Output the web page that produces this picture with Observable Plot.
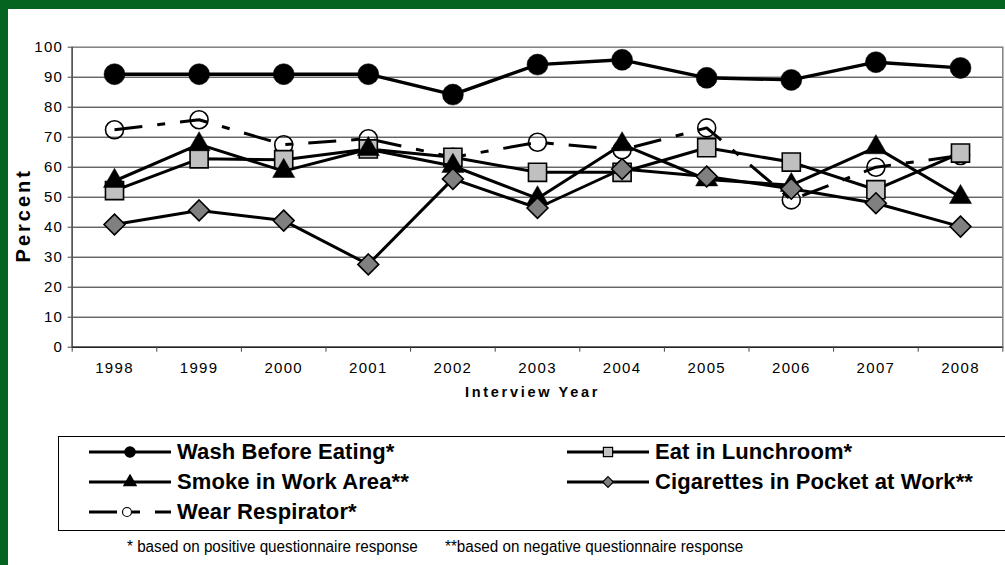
<!DOCTYPE html>
<html>
<head>
<meta charset="utf-8">
<script src="https://cdn.jsdelivr.net/npm/d3@7"></script>
<script src="https://cdn.jsdelivr.net/npm/@observablehq/plot@0.6"></script>
<style>
  body { margin: 0; background: #fff; }
  #page {
    position: relative; width: 1005px; height: 565px; box-sizing: border-box;
    border-top: 9px solid #05641f; border-left: 8px solid #05641f;
    background: #fff; overflow: hidden;
    font-family: "Liberation Sans", Arial, sans-serif;
  }
  #chart svg text { font-family: "Liberation Sans", Arial, sans-serif; }
  #chart g[aria-label="x-axis tick label"] text,
  #chart g[aria-label="y-axis tick label"] text { letter-spacing: 1.3px; }
  #legend {
    position: absolute; left: 50px; top: 427px; width: 990px; height: 95px;
    border: 1px solid #000; box-sizing: border-box;
  }
  .entry { position: absolute; height: 30px; display: flex; align-items: center; }
  .entry span { font-weight: bold; font-size: 22px; color: #000; margin-left: 6px; white-space: nowrap; letter-spacing: 0.1px; }
  .note { position: absolute; top: 529px; font-size: 16px; white-space: nowrap;
    font-family: "Liberation Sans", Arial, sans-serif;
    transform: scaleX(0.95); transform-origin: 0 50%; }
</style>
</head>
<body>
<div id="page">
  <div id="chart"></div>
  <div id="legend"></div>
</div>
<script>
// Survey years and percentages for each hygiene practice
const years = [1998, 1999, 2000, 2001, 2002, 2003, 2004, 2005, 2006, 2007, 2008];
const washBeforeEating   = [91, 91, 91, 91, 84.2, 94.2, 95.8, 89.8, 89.1, 95, 93.1];
const eatInLunchroom     = [52.2, 62.8, 62.5, 66.1, 63.3, 58.3, 58.3, 66.5, 61.7, 52.5, 64.7];
const smokeInWorkArea    = [55.4, 67.6, 58.7, 66, 60.4, 49.6, 67.6, 55.9, 54, 66.6, 50];
const cigarettesInPocket = [40.9, 45.6, 42.2, 27.6, 56.1, 46.4, 59.4, 56.9, 52.8, 48, 40.2];
const wearRespirator     = [72.5, 75.8, 67.5, 69.5, 63.3, 68.3, 65.8, 73.1, 49.1, 60, 63.9];
const seriesNames = [
  "Wash Before Eating*", "Eat in Lunchroom*", "Smoke in Work Area**",
  "Cigarettes in Pocket at Work**", "Wear Respirator*"
];
const yTicks = [0, 10, 20, 30, 40, 50, 60, 70, 80, 90, 100];
const xTitle = "Interview Year";
const yTitle = "Percent";
const footnotes = [
  "* based on positive questionnaire response",
  "**based on negative questionnaire response"
];

// Visual style per series (marker symbol, fills, dash)
const styles = {
  "Wash Before Eating*":            {symbol: "circle",   fill: "#000",    r: 10.5, lr: 5.2},
  "Eat in Lunchroom*":              {symbol: "square",   fill: "#c0c0c0", r: 10.2, lr: 5.2},
  "Smoke in Work Area**":           {symbol: "triangle", fill: "#000",    r: 8.2,  lr: 4.6},
  "Cigarettes in Pocket at Work**": {symbol: "diamond2", fill: "#808080", r: 9.4,  lr: 4.8},
  "Wear Respirator*":               {symbol: "circle",   fill: "none",    r: 9,    lr: 4.5, dash: "28,15,8,15"}
};
const valuesByName = {
  "Wash Before Eating*": washBeforeEating,
  "Eat in Lunchroom*": eatInLunchroom,
  "Smoke in Work Area**": smokeInWorkArea,
  "Cigarettes in Pocket at Work**": cigarettesInPocket,
  "Wear Respirator*": wearRespirator
};
// drawing order: respirator beneath, cigarettes on top
const drawOrder = ["Wear Respirator*", "Wash Before Eating*", "Eat in Lunchroom*", "Smoke in Work Area**", "Cigarettes in Pocket at Work**"];

const bounds = [years[0] - 0.5, ...years.map(y => y + 0.5)];

const seriesMarks = drawOrder.flatMap(name => {
  const s = styles[name];
  const rows = years.map((year, i) => ({year, value: valuesByName[name][i]}));
  return [
    Plot.line(rows, {x: "year", y: "value", stroke: "#000", strokeWidth: name === seriesNames[0] ? 3.4 : 3,
      strokeDasharray: s.dash, strokeLinejoin: "miter", strokeLinecap: "butt"}),
    Plot.dot(rows, {x: "year", y: "value", symbol: () => s.symbol, r: s.r,
      fill: s.fill, stroke: "#000", strokeWidth: s.fill === "#000" ? 0.5 : 1.6})
  ];
});

const chart = Plot.plot({
  width: 997,
  height: 411,
  marginLeft: 63.7,
  marginRight: 2.7,
  marginTop: 37.7,
  marginBottom: 73.3,
  x: {type: "linear", domain: [bounds[0], bounds[bounds.length - 1]]},
  y: {domain: [0, 100]},
  style: {fontSize: "15px", fontFamily: "Liberation Sans, Arial, sans-serif", color: "#000", background: "#fff"},
  marks: [
    Plot.gridY(yTicks.slice(1, -1), {stroke: "#222", strokeOpacity: 1, strokeWidth: 1}),
    Plot.frame({stroke: "#808080", strokeWidth: 1.5}),
    Plot.ruleX([bounds[0]], {stroke: "#555", strokeWidth: 1.5}),
    Plot.ruleY([0], {stroke: "#222", strokeWidth: 1.5}),
    Plot.axisY(yTicks, {tickSize: 4, tickPadding: 5, tickFormat: d => String(d), label: null, stroke: "#444"}),
    Plot.axisX(bounds, {tickSize: 5, tickFormat: () => "", label: null, stroke: "#444"}),
    Plot.axisX(years, {tickSize: 0, tickPadding: 15, tickFormat: d => String(d), label: null}),
    Plot.text([xTitle], {frameAnchor: "bottom", textAnchor: "middle", lineAnchor: "middle", dx: -5, dy: 45,
      fontWeight: "bold", fontSize: 14.5, text: d => d}),
    Plot.text([yTitle], {frameAnchor: "left", textAnchor: "middle", lineAnchor: "middle", dx: -48.7, dy: 18,
      rotate: -90, fontWeight: "bold", fontSize: 20, text: d => d}),
    ...seriesMarks
  ]
});
document.getElementById("chart").append(chart);
// letter spacing on the axis titles
d3.select(chart).selectAll("text").filter(function () {
  return this.textContent === xTitle;
}).style("letter-spacing", "2.7px");
d3.select(chart).selectAll("text").filter(function () {
  return this.textContent === yTitle;
}).style("letter-spacing", "3px");

// Legend: two columns, entries listed row by row
const legend = d3.select("#legend");
const legendPos = [
  {left: 30, top: 0}, {left: 508, top: 0},
  {left: 30, top: 30}, {left: 508, top: 30},
  {left: 30, top: 60}
];
seriesNames.forEach((name, i) => {
  const s = styles[name];
  const entry = legend.append("div").attr("class", "entry")
    .style("left", legendPos[i].left + "px").style("top", legendPos[i].top + "px");
  const svg = entry.append("svg").attr("width", 82).attr("height", 20);
  svg.append("line").attr("x1", 0).attr("x2", 82).attr("y1", 10).attr("y2", 10)
    .attr("stroke", "#000").attr("stroke-width", 3)
    .attr("stroke-dasharray", s.dash || null);
  const sym = {circle: d3.symbolCircle, square: d3.symbolSquare, triangle: d3.symbolTriangle, diamond2: d3.symbolDiamond2}[s.symbol];
  svg.append("path")
    .attr("transform", `translate(${s.dash ? 38 : 41},10)`)
    .attr("d", d3.symbol(sym, Math.PI * s.lr * s.lr)())
    .attr("fill", s.fill === "none" ? "#fff" : s.fill)
    .attr("stroke", "#000").attr("stroke-width", 1.2);
  entry.append("span").text(name);
});

// Footnotes under the legend
const page = d3.select("#page");
page.append("div").attr("class", "note").style("left", "119px").text(footnotes[0]);
page.append("div").attr("class", "note").style("left", "437px").text(footnotes[1]);
</script>
</body>
</html>
